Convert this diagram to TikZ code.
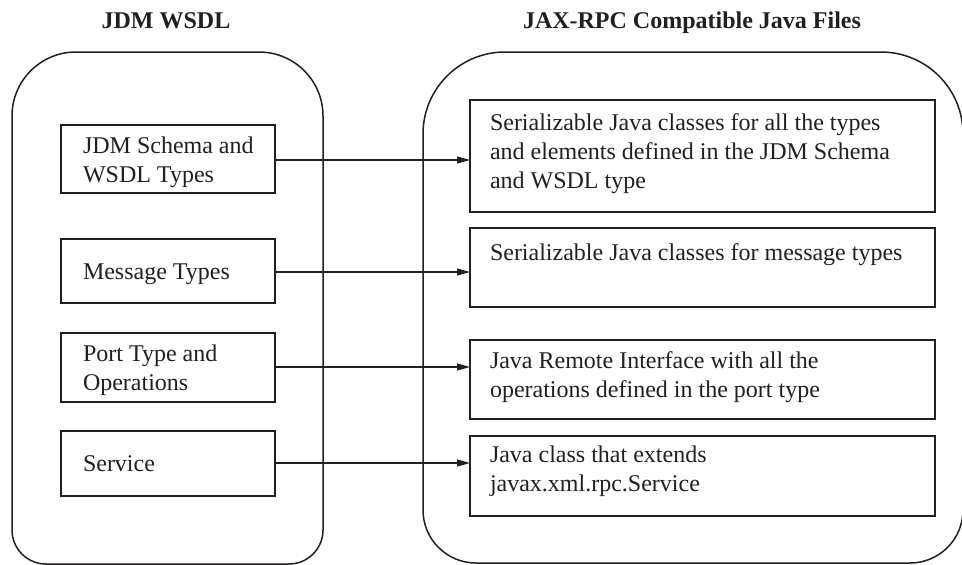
\documentclass[tikz,border=0pt]{standalone}
\usepackage{fontspec}
\setmainfont{Liberation Serif}
\usetikzlibrary{arrows.meta}
\definecolor{ink}{RGB}{35,31,32}
\begin{document}
\begin{tikzpicture}[x=1pt,y=-1pt,
  every node/.style={text=ink},
  boxL/.style={draw=ink,line width=1.8pt,rectangle,inner sep=0pt,outer sep=0pt,minimum width=214pt},
  boxR/.style={draw=ink,line width=1.8pt,rectangle,inner sep=0pt,outer sep=0pt,minimum width=465pt},
  txt/.style={anchor=base west,inner sep=0pt,outer sep=0pt,align=left,font=\fontsize{24}{29}\selectfont},
  ttl/.style={anchor=base,inner sep=0pt,font=\fontsize{24}{29}\selectfont\bfseries},
  cont/.style={draw=ink,line width=1.5pt},
  link/.style={draw=ink,line width=1.1pt,-{Triangle[length=13pt,width=7pt]}}]
\useasboundingbox (0,0) rectangle (962,565);
% titles
\node[ttl] (t1) at (166,28) {JDM WSDL};
\node[ttl] (t2) at (692,28) {JAX-RPC Compatible Java Files};
% containers
\draw[cont,rounded corners=64pt] (12,300) |- (167,52) -| (323,300);
\draw[cont,rounded corners=34pt] (323,300) |- (167,564) -| (12,300);
\draw[cont,rounded corners=82pt] (423,300) |- (693,52) -| (963,300);
\draw[cont,rounded corners=53pt] (963,300) |- (693,563) -| (423,300);
% left boxes
\node[boxL,minimum height=68pt] (L1) at (168,159) {};
\node[boxL,minimum height=64pt] (L2) at (168,271) {};
\node[boxL,minimum height=69pt] (L3) at (168,367.5) {};
\node[boxL,minimum height=65pt] (L4) at (168,463.5) {};
% right boxes
\node[boxR,minimum height=112pt] (R1) at (702.5,156) {};
\node[boxR,minimum height=79pt] (R2) at (702.5,267.5) {};
\node[boxR,minimum height=79pt] (R3) at (702.5,379.5) {};
\node[boxR,minimum height=80pt] (R4) at (702.5,476) {};
% texts (anchor on the baseline of the last line)
\node[txt] (l1t) at (83,182) {JDM Schema and\\WSDL Types};
\node[txt] (l2t) at (83,279) {Message Types};
\node[txt] (l3t) at (83,390) {Port Type and\\Operations};
\node[txt] (l4t) at (83,471) {Service};
\node[txt] (r1t) at (490,188) {Serializable Java classes for all the types\\and elements defined in the JDM Schema\\and WSDL type};
\node[txt] (r2t) at (490,260) {Serializable Java classes for message types};
\node[txt] (r3t) at (490,397) {Java Remote Interface with all the\\operations defined in the port type};
\node[txt] (r4t) at (490,491) {Java class that extends\\javax.xml.rpc.Service};
% arrows
\draw[link] (L1.east |- 0,160) -- (R1.west |- 0,160);
\draw[link] (L2.east |- 0,272) -- (R2.west |- 0,272);
\draw[link] (L3.east |- 0,367) -- (R3.west |- 0,367);
\draw[link] (L4.east |- 0,463) -- (R4.west |- 0,463);
\end{tikzpicture}
\end{document}
